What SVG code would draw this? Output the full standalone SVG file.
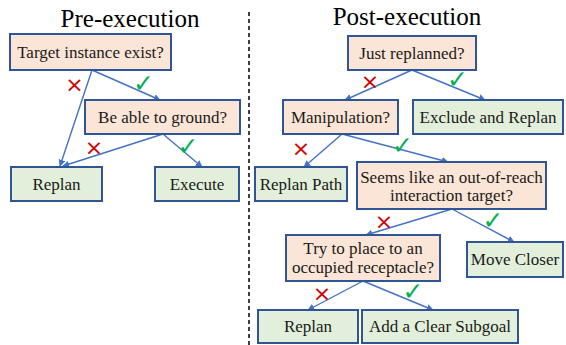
<svg xmlns="http://www.w3.org/2000/svg" width="566" height="345" viewBox="0 0 566 345">
<style>
.t{font-family:"Liberation Serif","Times New Roman",serif;font-size:17px;fill:#1a1a1a;text-anchor:middle}
.h{font-family:"Liberation Serif","Times New Roman",serif;font-size:25px;fill:#000;text-anchor:middle}
.q{fill:#FBE5D6;stroke:#2F5597;stroke-width:2}
.a{fill:#E2EFDA;stroke:#2F5597;stroke-width:2}
.c{stroke:#4472C4;stroke-width:1.4;fill:none;marker-end:url(#ah)}
.x{font-family:"DejaVu Sans",sans-serif;font-size:22px;fill:#D00000;text-anchor:middle}
.v{font-family:"DejaVu Sans",sans-serif;font-size:25px;fill:#00B050;text-anchor:middle;font-weight:bold}
</style>
<defs>
<marker id="ah" viewBox="0 0 10 10" refX="9" refY="5" markerWidth="7" markerHeight="7" markerUnits="userSpaceOnUse" orient="auto"><path d="M0,0L10,5L0,10z" fill="#4472C4"/></marker>
</defs>
<rect width="566" height="345" fill="#fff"/>
<line x1="249" y1="12" x2="249" y2="345" stroke="#000" stroke-width="1.5" stroke-dasharray="4,3"/>
<text class="h" x="130" y="27">Pre-execution</text>
<text class="h" x="407" y="25">Post-execution</text>
<g id="connectors">
<line class="c" x1="92" y1="70" x2="60" y2="166"/>
<line class="c" x1="92" y1="70" x2="160" y2="100"/>
<line class="c" x1="163" y1="134" x2="63" y2="166"/>
<line class="c" x1="163" y1="134" x2="202" y2="167"/>
<line class="c" x1="412" y1="70" x2="345" y2="100"/>
<line class="c" x1="412" y1="70" x2="485" y2="100"/>
<line class="c" x1="342" y1="134" x2="304" y2="167"/>
<line class="c" x1="342" y1="134" x2="448" y2="162"/>
<line class="c" x1="452" y1="209" x2="366" y2="235"/>
<line class="c" x1="452" y1="209" x2="514" y2="242"/>
<line class="c" x1="363" y1="281" x2="308" y2="310"/>
<line class="c" x1="363" y1="281" x2="433" y2="310"/>
</g>
<g id="marks">
<text class="x" x="74.5" y="91.5">×</text>
<text class="v" x="143.5" y="91.5">✓</text>
<text class="x" x="94" y="155">×</text>
<text class="v" x="188" y="155">✓</text>
<text class="x" x="370" y="89">×</text>
<text class="v" x="457.5" y="88">✓</text>
<text class="x" x="301" y="155.5">×</text>
<text class="v" x="402.5" y="154">✓</text>
<text class="x" x="384" y="228.5">×</text>
<text class="v" x="493" y="229">✓</text>
<text class="x" x="322" y="300.5">×</text>
<text class="v" x="413" y="300">✓</text>
</g>
<g id="n1"><rect class="q" x="10" y="34" width="161" height="36"/><text class="t" x="90.5" y="58">Target instance exist?</text></g>
<g id="n2"><rect class="q" x="85" y="100" width="155" height="34"/><text class="t" x="162.5" y="123">Be able to ground?</text></g>
<g id="n3"><rect class="a" x="11" y="167" width="91" height="34"/><text class="t" x="56.5" y="190">Replan</text></g>
<g id="n4"><rect class="a" x="155" y="167" width="84" height="34"/><text class="t" x="197" y="190">Execute</text></g>
<g id="n5"><rect class="q" x="348" y="36" width="128" height="34"/><text class="t" x="412" y="59">Just replanned?</text></g>
<g id="n6"><rect class="q" x="283" y="100" width="115" height="34"/><text class="t" x="340.5" y="123">Manipulation?</text></g>
<g id="n7"><rect class="a" x="413" y="100" width="150" height="34"/><text class="t" x="488" y="123">Exclude and Replan</text></g>
<g id="n8"><rect class="a" x="255" y="167" width="92" height="34"/><text class="t" x="301" y="190">Replan Path</text></g>
<g id="n9"><rect class="q" x="357" y="162" width="189" height="47"/><text class="t" x="451.5" y="183">Seems like an out-of-reach</text><text class="t" x="451.5" y="201">interaction target?</text></g>
<g id="n10"><rect class="q" x="286" y="235" width="154" height="46"/><text class="t" x="363" y="254">Try to place to an</text><text class="t" x="363" y="273">occupied receptacle?</text></g>
<g id="n11"><rect class="a" x="467" y="242" width="96" height="35"/><text class="t" x="515" y="265">Move Closer</text></g>
<g id="n12"><rect class="a" x="258" y="310" width="100" height="33"/><text class="t" x="308" y="332">Replan</text></g>
<g id="n13"><rect class="a" x="362" y="310" width="156" height="33"/><text class="t" x="440" y="332">Add a Clear Subgoal</text></g>
</svg>
